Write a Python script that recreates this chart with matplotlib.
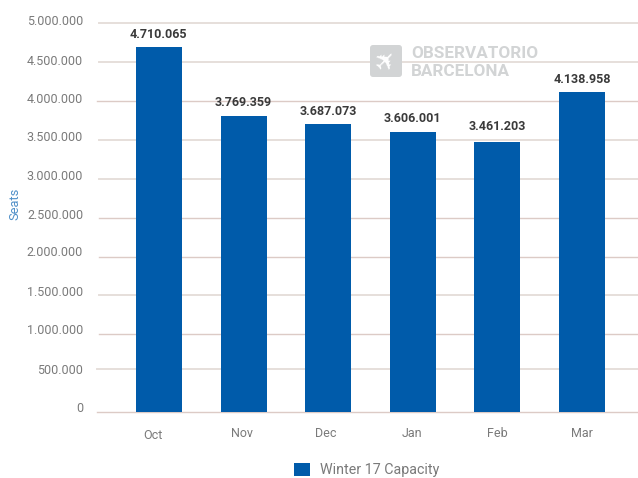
import matplotlib
matplotlib.use("Agg")
import matplotlib.pyplot as plt
from matplotlib.patches import FancyBboxPatch
from matplotlib.transforms import Affine2D, ScaledTranslation

months = ["Oct", "Nov", "Dec", "Jan", "Feb", "Mar"]
bar_tops = [4695000, 3810000, 3705000, 3600000, 3475000, 4110000]
value_labels = ["4.710.065", "3.769.359", "3.687.073", "3.606.001", "3.461.203", "4.138.958"]
y_ticks = [0, 500000, 1000000, 1500000, 2000000, 2500000, 3000000, 3500000, 4000000, 4500000, 5000000]
y_labels = ["0", "500.000", "1.000.000", "1.500.000", "2.000.000", "2.500.000",
            "3.000.000", "3.500.000", "4.000.000", "4.500.000", "5.000.000"]
series_name = "Winter 17 Capacity"

W, H = 638, 478
BLUE = "#005BAA"
GRID_A = "#dccbc6"
GRID_B = "#e6dfdb"
GREY = "#7a7a7a"

plt.rcParams["font.family"] = ["Roboto", "DejaVu Sans"]
fig = plt.figure(figsize=(W / 100, H / 100), dpi=100)
px = Affine2D().scale(1 / W, -1 / H).translate(0, 1) + fig.transFigure

left, right, top, bottom = 97, 638, 10, 412
ax = fig.add_axes([left / W, 1 - bottom / H, (right - left) / W, (bottom - top) / H])
per_m = (412 - 23.3) / 5
ax.set_ylim(0, (412 - top) / per_m * 1e6)
ax.set_xlim((left - 159) / 84.6, (right - 159) / 84.6)
for s in ax.spines.values():
    s.set_visible(False)

grid_colors = [GRID_A, GRID_B, GRID_A, GRID_B, GRID_A, GRID_A, GRID_B, GRID_B, GRID_A, GRID_B, GRID_B]
grid_nudge = [0, -4, 0, 0, 0, 0, 0, 0, 0, 0, 0]
grid_start = [0, 0, 2, 2, 2, 2, 2, 2, 0, 2, 2]
for v, c, n, st in zip(y_ticks, grid_colors, grid_nudge, grid_start):
    line = ax.axhline(v, xmin=st / (right - left), color=c, lw=1.4 if c == GRID_B else 1.0,
                      zorder=1, clip_on=False)
    line.set_transform(line.get_transform() + Affine2D().translate(0, -n))

positions = range(len(months))
bars = ax.bar(positions, bar_tops, width=46 / 84.6, color=BLUE, zorder=2, label=series_name)

label_dx = [-1, 0, 0, 0, 0, 0]
label_dy = [13, 13, 12, 14, 15, 13]
for r, t, dx, dy in zip(bars, value_labels, label_dx, label_dy):
    ax.annotate(t, (r.get_x() + r.get_width() / 2, r.get_height()),
                xytext=(dx * 0.72, dy * 0.72), textcoords="offset points",
                ha="center", va="center", fontsize=9, fontweight="bold", color="#3a3a3a", zorder=3)

ax.set_yticks(y_ticks, y_labels)
ax.set_xticks(list(positions), months)
ax.tick_params(axis="both", length=0)
ax.tick_params(axis="y", pad=10, labelsize=9, labelcolor=GREY)
ax.tick_params(axis="x", pad=10.5, labelsize=9, labelcolor=GREY)

y_nudge = [5, 4, 5, 4, 6, 4, 4, 4, 3, 2, 3]
for lab, n in zip(ax.get_yticklabels(), y_nudge):
    lab.set_transform(lab.get_transform() + ScaledTranslation(0, n / 100, fig.dpi_scale_trans))
x_nudge = [(-6, -2), (-2, 0), (-2, 0), (-1, 0), (0, 0), (0, 0)]
for lab, (dx, dy) in zip(ax.get_xticklabels(), x_nudge):
    lab.set_transform(lab.get_transform() + ScaledTranslation(dx / 100, dy / 100, fig.dpi_scale_trans))

fig.text(15 / W, 1 - 204 / H, "Seats", rotation=90, ha="center", va="center",
         fontsize=9.3, color="#4f8fc8")

fig.legend(handles=[bars], labels=[series_name], loc="center left",
           bbox_to_anchor=(281 / W, 1 - 470 / H), frameon=False, fontsize=10.3,
           labelcolor=GREY, handlelength=1.12, handleheight=1.0, handletextpad=0.7,
           borderpad=0.4)

logo_grey = "#d2d4d5"
fig.add_artist(FancyBboxPatch((372, 47), 28, 28, boxstyle="round,pad=2,rounding_size=3",
                              transform=px, fc=logo_grey, ec="none"))
fig.text(386, 61, "\u2708", transform=px, family="DejaVu Sans", fontsize=19, color="white",
         ha="center", va="center", rotation=45)
fig.text(411, 54, "OBSERVATORIO", transform=px, fontsize=12.3,
         fontweight="bold", color=logo_grey, ha="left", va="center")
fig.text(411, 72, "BARCELONA", transform=px, fontsize=12.3,
         fontweight="bold", color=logo_grey, ha="left", va="center")

fig.savefig("out.png", dpi=100)
